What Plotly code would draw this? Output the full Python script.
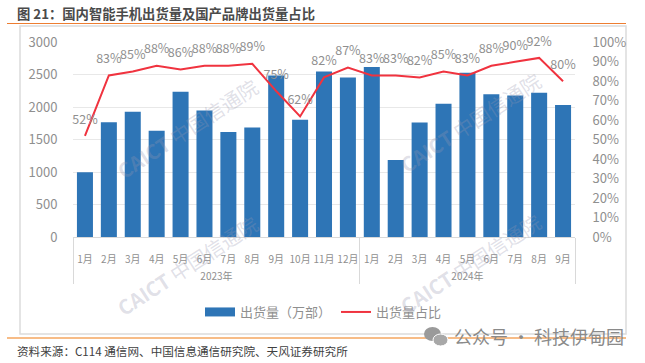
import plotly.graph_objects as go

W, H = 645, 363
years = ["2023年"] * 12 + ["2024年"] * 9
months = ["1月", "2月", "3月", "4月", "5月", "6月", "7月", "8月", "9月", "10月", "11月", "12月",
          "1月", "2月", "3月", "4月", "5月", "6月", "7月", "8月", "9月"]
shipments = [1000, 1770, 1930, 1640, 2240, 1950, 1620, 1690, 2490, 1810, 2550, 2460,
             2620, 1190, 1765, 2055, 2530, 2200, 2180, 2225, 2035]
share = [52, 83, 85, 88, 86, 88, 88, 89, 75, 62, 82, 87, 83, 83, 82, 85, 83, 88, 90, 92, 80]
left_ticks = [0, 500, 1000, 1500, 2000, 2500, 3000]
right_ticks = list(range(0, 101, 10))

FONT = "Noto Sans CJK SC"
GREY = "#8f8f8f"
BLUE = "#2e75b6"
RED = "#f0333f"
ORANGE = "#ed7d31"

month_labels = [" <br>" + m for m in months]
xpair = [years, month_labels]


def px(x):
    return x / W


def py(y):
    return 1 - y / H


fig = go.Figure()
fig.add_trace(go.Bar(x=xpair, y=shipments, marker_color=BLUE, marker_line_width=0,
                     width=0.67, showlegend=False, yaxis="y"))
fig.add_trace(go.Scatter(x=[years[:1], month_labels[:1]], y=[None], mode="lines",
                         name="出货量\uff08万部\uff09", line=dict(color=BLUE, width=9)))
fig.add_trace(go.Scatter(x=xpair, y=share, yaxis="y2", mode="lines",
                         name="出货量占比", line=dict(color=RED, width=2)))
fig.add_trace(go.Scatter(x=xpair, y=share, yaxis="y2", mode="markers+text", showlegend=False,
                         marker=dict(size=13, opacity=0, color=RED),
                         text=[f"{v}%" for v in share], textposition="top center",
                         textfont=dict(size=12.5, color=GREY, family=FONT), cliponaxis=False))

shapes = [
    dict(type="rect", xref="paper", yref="paper", x0=px(20), x1=px(626), y0=py(26), y1=py(334),
         line=dict(color="#dcdcdc", width=1.5), fillcolor="rgba(0,0,0,0)", layer="below"),
    dict(type="line", xref="paper", yref="paper", x0=px(7), x1=px(626), y0=py(23.5), y1=py(23.5),
         line=dict(color=ORANGE, width=1.2)),
    dict(type="line", xref="paper", yref="paper", x0=px(7), x1=px(626), y0=py(338), y1=py(338),
         line=dict(color="#f07a10", width=1.2)),
    dict(type="circle", xref="paper", yref="paper", x0=px(424), x1=px(441), y0=py(327), y1=py(341),
         fillcolor="#9a9a9a", line_width=0, layer="above"),
    dict(type="circle", xref="paper", yref="paper", x0=px(433), x1=px(448), y0=py(334), y1=py(346),
         fillcolor="#a8a8a8", line=dict(color="white", width=1), layer="above"),
]

annotations = [
    dict(x=px(15), y=py(14), text="<b>图 21\uff1a国内智能手机出货量及国产品牌出货量占比</b>", xanchor="left",
         font=dict(size=13.3, color="#4a4a4a", family=FONT)),
    dict(x=px(15), y=py(351), text="资料来源\uff1aC114 通信网、中国信息通信研究院、天风证券研究所", xanchor="left",
         font=dict(size=11.6, color="#404040", family=FONT)),
    dict(x=px(452), y=py(336), text="公众号 · 科技伊甸园", xanchor="left",
         font=dict(size=18, color="#8a8a8a", family=FONT)),
]
for cx, cy in [(187, 128), (470, 122), (187, 265), (470, 263)]:
    annotations.append(dict(x=px(cx), y=py(cy), text="<b>CAICT</b> 中国信通院", textangle=-33,
                            xanchor="center", font=dict(size=20, color="rgba(150,150,175,0.30)", family=FONT)))
for a in annotations:
    a.update(xref="paper", yref="paper", showarrow=False, yanchor="middle")

fig.update_layout(
    width=W, height=H, autosize=False, margin=dict(l=0, r=0, t=0, b=0),
    paper_bgcolor="white", plot_bgcolor="white", font=dict(family=FONT, color=GREY), bargap=0.33,
    xaxis=dict(domain=[px(73), px(575)], type="multicategory", range=[-0.5, 20.5], showline=True,
               linecolor="#d9d9d9", linewidth=1, ticks="outside", ticklen=8, tickcolor="rgba(0,0,0,0)",
               tickangle=0, tickfont=dict(size=10, color=GREY), showgrid=False, automargin=False,
               showdividers=True, dividercolor="#d9d9d9", dividerwidth=1),
    yaxis=dict(domain=[py(237.3), py(42.3)], range=[0, 3000], tickvals=left_ticks, showline=False,
               gridcolor="#e8e8e8", gridwidth=1.4, zeroline=False, ticks="outside", ticklen=12,
               tickcolor="rgba(0,0,0,0)", tickfont=dict(size=13, color=GREY), automargin=False),
    yaxis2=dict(domain=[py(237.3), py(42.3)], overlaying="y", side="right", range=[0, 100],
                tickvals=right_ticks, ticktext=[f"{v}%" for v in right_ticks], showgrid=False,
                zeroline=False, showline=False, ticks="outside", ticklen=14,
                tickcolor="rgba(0,0,0,0)", tickfont=dict(size=13, color=GREY), automargin=False, anchor="x"),
    legend=dict(orientation="h", x=px(200), xanchor="left", y=py(312), yanchor="middle",
                font=dict(size=13, color=GREY), bgcolor="rgba(0,0,0,0)", itemwidth=30),
    shapes=shapes, annotations=annotations,
)
fig.write_html("out.html", config={"displayModeBar": False}, post_script="document.body.style.margin='0';")
